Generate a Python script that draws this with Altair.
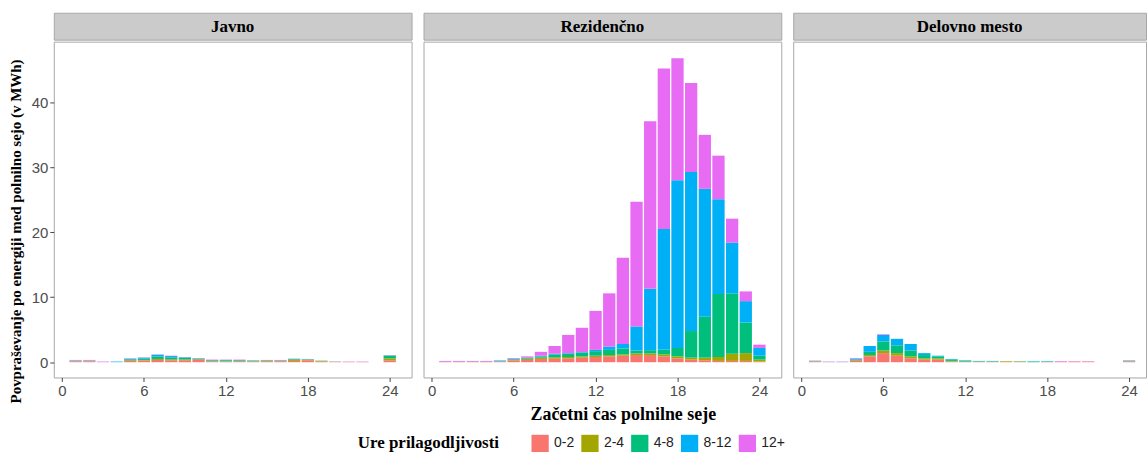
import altair as alt
import pandas as pd

# Flexibility classes (hours) and their colours
classes = ["0-2", "2-4", "4-8", "8-12", "12+"]
colors = ["#F8766D", "#A3A500", "#00BF7D", "#00B0F6", "#E76BF3"]
hours = list(range(1, 25))

# Energy demand per charging session start hour (MWh), one list per class
javno = {
    "0-2":  [0.10, 0.12, 0.00, 0.00, 0.20, 0.25, 0.35, 0.30, 0.30, 0.35, 0.15, 0.10, 0.15, 0.10, 0.15, 0.15, 0.20, 0.30, 0.10, 0.05, 0.05, 0.05, 0.00, 0.30],
    "2-4":  [0.05, 0.05, 0.00, 0.00, 0.10, 0.10, 0.15, 0.15, 0.10, 0.10, 0.05, 0.05, 0.05, 0.05, 0.10, 0.05, 0.20, 0.10, 0.10, 0.02, 0.00, 0.00, 0.00, 0.30],
    "4-8":  [0.05, 0.03, 0.00, 0.00, 0.15, 0.20, 0.35, 0.30, 0.30, 0.10, 0.10, 0.15, 0.10, 0.10, 0.05, 0.05, 0.10, 0.05, 0.02, 0.02, 0.00, 0.00, 0.00, 0.40],
    "8-12": [0.05, 0.05, 0.00, 0.10, 0.10, 0.15, 0.30, 0.20, 0.05, 0.05, 0.05, 0.05, 0.05, 0.03, 0.03, 0.05, 0.03, 0.03, 0.02, 0.01, 0.00, 0.00, 0.00, 0.05],
    "12+":  [0.10, 0.10, 0.10, 0.00, 0.05, 0.05, 0.05, 0.05, 0.05, 0.05, 0.05, 0.05, 0.05, 0.02, 0.02, 0.05, 0.02, 0.02, 0.01, 0.02, 0.05, 0.05, 0.00, 0.05],
}
rezidencno = {
    "0-2":  [0.02, 0.02, 0.02, 0.02, 0.05, 0.25, 0.35, 0.50, 0.55, 0.60, 0.70, 0.80, 0.90, 1.00, 1.10, 1.10, 0.90, 0.60, 0.40, 0.30, 0.20, 0.20, 0.20, 0.10],
    "2-4":  [0.02, 0.02, 0.02, 0.02, 0.05, 0.10, 0.15, 0.20, 0.20, 0.20, 0.20, 0.20, 0.20, 0.20, 0.25, 0.25, 0.30, 0.30, 0.30, 0.40, 0.60, 1.10, 1.20, 0.30],
    "4-8":  [0.02, 0.02, 0.02, 0.02, 0.05, 0.10, 0.10, 0.20, 0.45, 0.50, 0.55, 0.70, 0.80, 0.90, 0.45, 0.50, 0.70, 1.30, 4.10, 6.30, 9.70, 9.30, 4.70, 0.60],
    "8-12": [0.02, 0.02, 0.02, 0.02, 0.10, 0.10, 0.10, 0.10, 0.10, 0.10, 0.10, 0.20, 0.50, 0.70, 3.70, 9.45, 18.60, 25.80, 24.50, 19.70, 14.60, 7.80, 3.30, 1.20],
    "12+":  [0.12, 0.12, 0.12, 0.12, 0.05, 0.10, 0.20, 0.60, 1.20, 2.80, 3.75, 6.00, 8.20, 13.30, 19.20, 25.80, 24.70, 18.80, 13.70, 8.30, 6.70, 3.70, 1.50, 0.50],
}
delovno = {
    "0-2":  [0.10, 0.02, 0.02, 0.20, 0.90, 1.40, 1.00, 0.60, 0.40, 0.40, 0.10, 0.05, 0.05, 0.05, 0.05, 0.05, 0.00, 0.05, 0.05, 0.10, 0.10, 0.00, 0.00, 0.10],
    "2-4":  [0.05, 0.00, 0.00, 0.10, 0.20, 0.40, 0.40, 0.30, 0.20, 0.20, 0.10, 0.05, 0.05, 0.05, 0.10, 0.05, 0.00, 0.00, 0.00, 0.00, 0.00, 0.00, 0.00, 0.05],
    "4-8":  [0.00, 0.00, 0.00, 0.10, 0.50, 1.40, 1.20, 0.90, 0.50, 0.30, 0.20, 0.15, 0.05, 0.05, 0.00, 0.05, 0.10, 0.05, 0.00, 0.00, 0.00, 0.00, 0.00, 0.05],
    "8-12": [0.05, 0.03, 0.03, 0.15, 0.90, 1.00, 1.00, 1.00, 0.30, 0.10, 0.10, 0.05, 0.05, 0.05, 0.00, 0.00, 0.05, 0.05, 0.00, 0.00, 0.00, 0.00, 0.00, 0.05],
    "12+":  [0.05, 0.05, 0.05, 0.10, 0.00, 0.10, 0.00, 0.00, 0.00, 0.00, 0.00, 0.00, 0.00, 0.00, 0.00, 0.00, 0.00, 0.00, 0.10, 0.05, 0.05, 0.00, 0.00, 0.05],
}
facets = [("Javno", javno), ("Rezidenčno", rezidencno), ("Delovno mesto", delovno)]

rows = []
for fname, table in facets:
    for k, cls in enumerate(classes):
        for h, v in zip(hours, table[cls]):
            rows.append({"facet": fname, "hour": h, "cls": cls, "order": k, "value": v})
df = pd.DataFrame(rows)

SERIF = "Liberation Serif"
SANS = "Liberation Sans"
PLOT_H = 337
STRIP_H = 27
Y_DOMAIN = [-2.35, 49.35]


def panel(name, width, xmax, first, middle):
    base = (
        alt.Chart(df)
        .transform_filter(alt.datum.facet == name)
        .transform_stack(stack="value", groupby=["hour"], as_=["v0", "v1"],
                         sort=[alt.SortField("order", order="ascending")])
        .transform_calculate(x0="datum.hour - 0.45", x1="datum.hour + 0.45")
    )
    x_axis = alt.Axis(
        values=[0, 6, 12, 18, 24], grid=False, domain=False, tickSize=4,
        tickColor="#444", labelFont=SANS, labelFontSize=15, labelColor="#4d4d4d",
        labelPadding=2, labelFlush=False,
        title="Začetni čas polnilne seje" if middle else None,
        titleFont=SERIF, titleFontSize=18, titleFontWeight="bold", titleColor="black",
        titleX=200, titleY=37, titleBaseline="middle", titleAlign="center",
    )
    if first:
        y_axis = alt.Axis(
            values=[0, 10, 20, 30, 40], grid=False, domain=False, tickSize=4,
            tickColor="#444", labelFont=SANS, labelFontSize=15, labelColor="#4d4d4d",
            labelPadding=2,
            title="Povpraševanje po energiji med polnilno sejo (v MWh)",
            titleFont=SERIF, titleFontSize=15, titleFontWeight="bold", titleColor="black",
            titlePadding=8, titleY=190, titleAlign="center",
        )
    else:
        y_axis = None
    bars = base.mark_rect().encode(
        x=alt.X("x0:Q", scale=alt.Scale(domain=[-0.6, xmax], nice=False, zero=False), axis=x_axis),
        x2="x1:Q",
        y=alt.Y("v0:Q", scale=alt.Scale(domain=Y_DOMAIN, nice=False, zero=False), axis=y_axis),
        y2="v1:Q",
        color=alt.Color("cls:N", scale=alt.Scale(domain=classes, range=colors),
                        title="Ure prilagodljivosti"),
    ).properties(width=width, height=PLOT_H,
                 view=alt.ViewBackground(fill="white", stroke="#a8a8a8", strokeWidth=1))

    strip = alt.Chart(pd.DataFrame({"t": [name]})).mark_text(
        font=SERIF, fontWeight="bold", fontSize=17, color="black", baseline="middle", align="center"
    ).encode(
        text="t:N", x=alt.value(width / 2), y=alt.value(STRIP_H / 2 + 0.5)
    ).properties(width=width, height=STRIP_H,
                 view=alt.ViewBackground(fill="#cbcbcb", stroke="#a8a8a8", strokeWidth=1))
    return alt.vconcat(strip, bars, spacing=0)


chart = alt.hconcat(
    panel("Javno", 359, 25.6, True, False),
    panel("Rezidenčno", 359, 25.6, False, True),
    panel("Delovno mesto", 354, 25.24, False, False),
    spacing=10,
).properties(
    padding={"left": 7, "top": 11, "right": 0, "bottom": 0},
    background="white",
).configure_legend(
    orient="none", legendX=305, legendY=423, direction="horizontal", titleOrient="left",
    titleFont=SERIF, titleFontSize=17, titleFontWeight="bold", titleColor="black",
    titlePadding=32, titleBaseline="middle",
    labelFont=SANS, labelFontSize=14, labelColor="#222", labelOffset=5,
    symbolType="square", symbolSize=300, symbolStrokeWidth=0, symbolOpacity=1,
    columnPadding=6,
).configure_concat(spacing=10)

chart.save("out.html", embed_options={"renderer": "svg", "actions": False})
